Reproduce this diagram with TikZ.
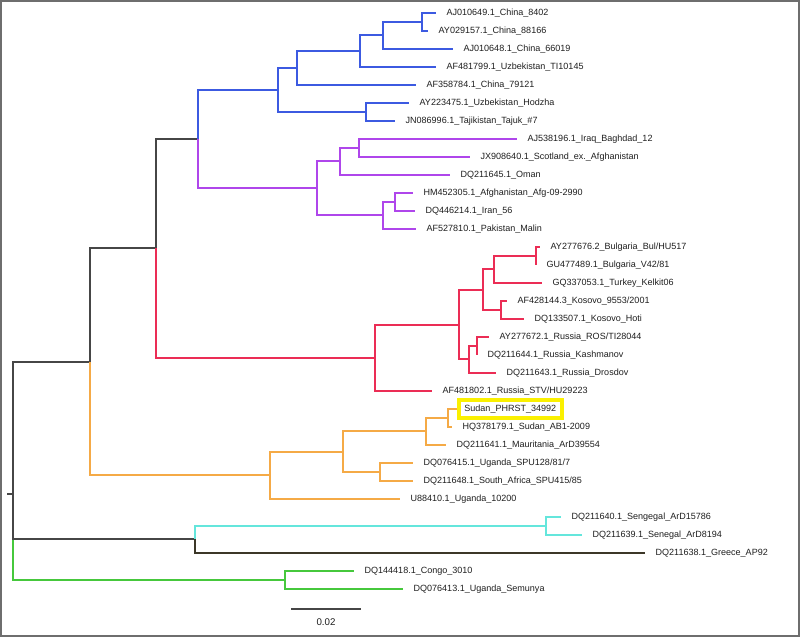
\documentclass[tikz,border=0pt]{standalone}
\usepackage{fontspec}
\setmainfont{Liberation Sans}
\usepackage{xcolor}
\definecolor{cblue}{HTML}{3C5AE1}
\definecolor{cpurple}{HTML}{AF46EB}
\definecolor{cred}{HTML}{EB2D55}
\definecolor{corange}{HTML}{F5AA46}
\definecolor{ccyan}{HTML}{64E6DC}
\definecolor{cgreen}{HTML}{46C83C}
\definecolor{cdark}{HTML}{464646}
\definecolor{colive}{HTML}{3C3728}
\definecolor{cframe}{HTML}{6E6E6E}
\definecolor{chl}{HTML}{FAF000}
\definecolor{ctxt}{HTML}{1E1E1E}
\begin{document}
\begin{tikzpicture}[x=0.03cm, y=-0.03cm, line width=1.1pt,
  taxon/.style={anchor=west, inner xsep=0.3cm, inner ysep=0pt, text=ctxt,
    font=\fontsize{7.7}{9}\selectfont},
  mark box/.style={draw=chl, line width=3pt, inner xsep=0.17cm, inner ysep=0.14cm}]
\useasboundingbox (0,0) rectangle (800,637);
\draw[cframe, line width=2pt] (1,1) rectangle (799,636);

\coordinate (stub) at (7,494);
\coordinate (root) at (13,494);
\coordinate (nA) at (90,362);
\coordinate (nB) at (156,248);
\coordinate (nC) at (198,139);
\coordinate (nD) at (278,90);
\coordinate (nE) at (297,68);
\coordinate (nF) at (360,51);
\coordinate (nG) at (383,35);
\coordinate (nH) at (422,22);
\coordinate (nI) at (366,112);
\coordinate (nJ) at (317,188);
\coordinate (nK) at (340,161);
\coordinate (nL) at (359,148);
\coordinate (nM) at (383,215);
\coordinate (nN) at (395,202);
\coordinate (nO) at (375,358);
\coordinate (nP) at (459,325);
\coordinate (nQ) at (483,290);
\coordinate (nR) at (469,359);
\coordinate (nS) at (494,269);
\coordinate (nT) at (501,310);
\coordinate (nU) at (536,256);
\coordinate (nV) at (477,346);
\coordinate (nW) at (270,475);
\coordinate (nX) at (343,452);
\coordinate (nY) at (426,431);
\coordinate (nZ) at (448,418);
\coordinate (nUg) at (380,472);
\coordinate (nSg) at (195,539);
\coordinate (nSe) at (546,526);
\coordinate (nGr) at (285,580);

\node[taxon] (t1) at (436,13) {AJ010649.1\_China\_8402};
\node[taxon] (t2) at (428,31) {AY029157.1\_China\_88166};
\node[taxon] (t3) at (453,49) {AJ010648.1\_China\_66019};
\node[taxon] (t4) at (436,67) {AF481799.1\_Uzbekistan\_TI10145};
\node[taxon] (t5) at (416,85) {AF358784.1\_China\_79121};
\node[taxon] (t6) at (409,103) {AY223475.1\_Uzbekistan\_Hodzha};
\node[taxon] (t7) at (395,121) {JN086996.1\_Tajikistan\_Tajuk\_\#7};
\node[taxon] (t8) at (517,139) {AJ538196.1\_Iraq\_Baghdad\_12};
\node[taxon] (t9) at (470,157) {JX908640.1\_Scotland\_ex.\_Afghanistan};
\node[taxon] (t10) at (450,175) {DQ211645.1\_Oman};
\node[taxon] (t11) at (413,193) {HM452305.1\_Afghanistan\_Afg-09-2990};
\node[taxon] (t12) at (415,211) {DQ446214.1\_Iran\_56};
\node[taxon] (t13) at (416,229) {AF527810.1\_Pakistan\_Malin};
\node[taxon] (t14) at (540,247) {AY277676.2\_Bulgaria\_Bul/HU517};
\node[taxon] (t15) at (536,265) {GU477489.1\_Bulgaria\_V42/81};
\node[taxon] (t16) at (542,283) {GQ337053.1\_Turkey\_Kelkit06};
\node[taxon] (t17) at (507,301) {AF428144.3\_Kosovo\_9553/2001};
\node[taxon] (t18) at (524,319) {DQ133507.1\_Kosovo\_Hoti};
\node[taxon] (t19) at (489,337) {AY277672.1\_Russia\_ROS/TI28044};
\node[taxon] (t20) at (477,355) {DQ211644.1\_Russia\_Kashmanov};
\node[taxon] (t21) at (496,373) {DQ211643.1\_Russia\_Drosdov};
\node[taxon] (t22) at (432,391) {AF481802.1\_Russia\_STV/HU29223};
\node[taxon, mark box] (t23) at (457,409) {Sudan\_PHRST\_34992};
\node[taxon] (t24) at (452,427) {HQ378179.1\_Sudan\_AB1-2009};
\node[taxon] (t25) at (446,445) {DQ211641.1\_Mauritania\_ArD39554};
\node[taxon] (t26) at (413,463) {DQ076415.1\_Uganda\_SPU128/81/7};
\node[taxon] (t27) at (413,481) {DQ211648.1\_South\_Africa\_SPU415/85};
\node[taxon] (t28) at (400,499) {U88410.1\_Uganda\_10200};
\node[taxon] (t29) at (561,517) {DQ211640.1\_Sengegal\_ArD15786};
\node[taxon] (t30) at (582,535) {DQ211639.1\_Senegal\_ArD8194};
\node[taxon] (t31) at (645,553) {DQ211638.1\_Greece\_AP92};
\node[taxon] (t32) at (354,571) {DQ144418.1\_Congo\_3010};
\node[taxon] (t33) at (403,589) {DQ076413.1\_Uganda\_Semunya};

\draw[cgreen] (root) |- (nGr);
\draw[cdark] (stub) -- (root) |- (nA) (root) |- (nSg);
\draw[cgreen] (nGr) |- (t32.west) (nGr) |- (t33.west);
\draw[cdark] (nA) |- (nB) (nB) |- (nC);
\draw[corange] (nA) |- (nW);
\draw[cred] (nB) |- (nO);
\draw[cblue] (nC) |- (nD);
\draw[cpurple] (nC) |- (nJ);
\draw[cblue] (nD) |- (nE) (nD) |- (nI) (nE) |- (nF) (nE) |- (t5.west)
  (nF) |- (nG) (nF) |- (t4.west) (nG) |- (nH) (nG) |- (t3.west)
  (nH) |- (t1.west) (nH) |- (t2.west) (nI) |- (t6.west) (nI) |- (t7.west);
\draw[cpurple] (nJ) |- (nK) (nJ) |- (nM) (nK) |- (nL) (nK) |- (t10.west)
  (nL) |- (t8.west) (nL) |- (t9.west) (nM) |- (nN) (nM) |- (t13.west)
  (nN) |- (t11.west) (nN) |- (t12.west);
\draw[cred] (nO) |- (nP) (nO) |- (t22.west) (nP) |- (nQ) (nP) |- (nR)
  (nQ) |- (nS) (nQ) |- (nT) (nS) |- (nU) (nS) |- (t16.west)
  (nU) |- (t14.west) (nU) |- (t15.west) (nT) |- (t17.west) (nT) |- (t18.west)
  (nR) |- (nV) (nR) |- (t21.west) (nV) |- (t19.west) (nV) |- (t20.west);
\draw[corange] (nW) |- (nX) (nW) |- (t28.west) (nX) |- (nY) (nX) |- (nUg)
  (nY) |- (nZ) (nY) |- (t25.west) (nZ) |- (t23.west) (nZ) |- (t24.west)
  (nUg) |- (t26.west) (nUg) |- (t27.west);
\draw[ccyan] (nSg) |- (nSe) (nSe) |- (t29.west) (nSe) |- (t30.west);
\draw[colive] (nSg) |- (t31.west);

\coordinate (sb1) at (291,609);
\coordinate (sb2) at (361,609);
\draw[cdark] (sb1) -- node[midway, yshift=-0.39cm, text=ctxt,
  font=\fontsize{8.3}{10}\selectfont] (sblab) {0.02} (sb2);
\end{tikzpicture}
\end{document}
